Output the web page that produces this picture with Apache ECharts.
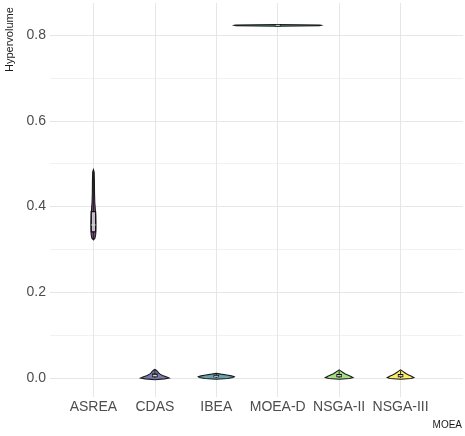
<!DOCTYPE html>
<html><head><meta charset="utf-8">
<script src="https://cdn.jsdelivr.net/npm/echarts@6/dist/echarts.min.js"></script>
<style>html,body{margin:0;padding:0;background:#fff}#c{width:465px;height:436px}</style>
</head><body><div id="c"></div>
<script>
const categories = ['ASREA','CDAS','IBEA','MOEA-D','NSGA-II','NSGA-III'];
const yTicks = [0, 0.2, 0.4, 0.6, 0.8];
const fillColors = ['#440154','#414487','#2A788E','#22A884','#7AD151','#FDE725'];

// violin profiles: value levels and half-widths (in category units)
const asreaLevels = [0.322,0.326,0.335,0.35,0.365,0.38,0.395,0.41,0.43,0.46,0.48,0.486];
const asreaWidths = [0,0.025,0.037,0.04,0.04,0.037,0.03,0.022,0.018,0.016,0.012,0];
const cdasLevels = [-0.004,-0.002,0.0,0.003,0.006,0.009,0.012,0.015,0.018,0.02];
const cdasWidths = [0,0.155,0.232,0.185,0.124,0.085,0.062,0.046,0.023,0];
const ibeaLevels = [-0.003,-0.001,0.001,0.003,0.005,0.007,0.009,0.011];
const ibeaWidths = [0,0.185,0.278,0.294,0.247,0.17,0.077,0];
const moeadLevels = [0.8206,0.8215,0.8225,0.8235,0.8244];
const moeadWidths = [0,0.68,0.71,0.68,0];
const nsga2Levels = [-0.003,-0.001,0.001,0.004,0.007,0.010,0.013,0.016,0.019];
const nsga2Widths = [0,0.17,0.224,0.185,0.139,0.093,0.062,0.031,0];
const nsga3Levels = [-0.003,-0.001,0.001,0.004,0.007,0.010,0.013,0.016,0.019];
const nsga3Widths = [0,0.17,0.216,0.178,0.131,0.093,0.062,0.031,0];

// box stats: [min, q1, median, q3, max]
const asreaBox = [0.322,0.341,0.357,0.388,0.485];
const cdasBox = [0.0,0.003,0.005,0.009,0.018];
const ibeaBox = [0.0,0.003,0.004,0.006,0.010];
const moeadBox = [0.8215,0.8222,0.8225,0.8228,0.8235];
const nsga2Box = [0.0,0.003,0.005,0.008,0.017];
const nsga3Box = [0.0,0.003,0.005,0.008,0.017];

const levels = [asreaLevels,cdasLevels,ibeaLevels,moeadLevels,nsga2Levels,nsga3Levels];
const widths = [asreaWidths,cdasWidths,ibeaWidths,moeadWidths,nsga2Widths,nsga3Widths];
const boxes = [asreaBox,cdasBox,ibeaBox,moeadBox,nsga2Box,nsga3Box];

const violinData = categories.map((c,i)=>[i]);
const boxData = boxes.map((b,i)=>[i].concat(b));

const chart = echarts.init(document.getElementById('c'), null, {renderer:'canvas'});
const font = 'Liberation Sans, Arial, sans-serif';
const vColors = ['rgba(0,0,0,0)','#e6e6e6','#e6e6e6','#e6e6e6','#e6e6e6','#e6e6e6','#e6e6e6','rgba(0,0,0,0)'];

chart.setOption({
  animation:false,
  backgroundColor:'#fff',
  grid:[
    {left:50, right:2, top:35, bottom:58},
    {left:32, width:452.9, top:3, bottom:39}
  ],
  xAxis:[
    {gridIndex:0, type:'value', min:0, max:1, show:false},
    {gridIndex:1, type:'value', min:-1, max:6, interval:1,
     axisLine:{show:false}, axisTick:{show:false},
     splitLine:{show:true, lineStyle:{color:vColors, width:1}},
     axisLabel:{margin:3, fontSize:14, fontFamily:font, color:'#4d4d4d',
       formatter:v=> categories[v] !== undefined ? categories[v] : ''}}
  ],
  yAxis:[
    {gridIndex:0, type:'value', min:0, max:0.8, interval:0.2,
     axisLine:{show:false}, axisTick:{show:false},
     axisLabel:{margin:4, fontSize:14, fontFamily:font, color:'#4d4d4d', formatter:v=>v.toFixed(1)},
     splitLine:{show:true, lineStyle:{color:'#e6e6e6', width:1}},
     minorTick:{show:false, splitNumber:2},
     minorSplitLine:{show:true, lineStyle:{color:'#f1f1f1', width:1}}},
    {gridIndex:1, type:'value', min:-0.044315, max:0.87464, show:false, splitLine:{show:false}}
  ],
  graphic:[
    {type:'text', rotation:Math.PI/2, x:4, y:72,
     style:{text:'Hypervolume', fontSize:11, fontFamily:font, fill:'#1a1a1a'}},
    {type:'text', right:3, top:420, style:{text:'MOEA', fontSize:10, fontFamily:font, fill:'#1a1a1a'}}
  ],
  series:[
    {type:'custom', xAxisIndex:1, yAxisIndex:1, clip:false, data:violinData,
     renderItem:(params, api)=>{
       const i = api.value(0);
       const lv = levels[i], w = widths[i];
       const pts = [];
       for (let k=0;k<lv.length;k++) pts.push(api.coord([i + w[k], lv[k]]));
       for (let k=lv.length-1;k>=0;k--) pts.push(api.coord([i - w[k], lv[k]]));
       return {type:'polygon', shape:{points:pts},
         style:{fill:fillColors[i], opacity:1, stroke:'#1a1a1a', lineWidth:1.1, fillOpacity:0.7}};
     }},
    {type:'custom', xAxisIndex:1, yAxisIndex:1, clip:false, data:boxData,
     renderItem:(params, api)=>{
       const i = api.value(0);
       const mn = api.value(1), q1 = api.value(2), md = api.value(3), q3 = api.value(4), mx = api.value(5);
       const hw = 0.035;
       const pMin = api.coord([i, mn]), pMax = api.coord([i, mx]);
       const tl = api.coord([i - hw, q3]), br = api.coord([i + hw, q1]);
       const ml = api.coord([i - hw, md]), mr = api.coord([i + hw, md]);
       return {type:'group', children:[
         {type:'line', shape:{x1:pMin[0], y1:pMin[1], x2:pMax[0], y2:pMax[1]}, style:{stroke:'#1a1a1a', lineWidth:0.9}},
         {type:'rect', shape:{x:tl[0], y:tl[1], width:br[0]-tl[0], height:Math.max(br[1]-tl[1],0.5)},
          style:{fill:'rgba(235,235,240,0.75)', stroke:'#111', lineWidth:1.2}},
         {type:'line', shape:{x1:ml[0], y1:ml[1], x2:mr[0], y2:mr[1]}, style:{stroke:'#ddd', lineWidth:1}}
       ]};
     }}
  ]
});
</script></body></html>
